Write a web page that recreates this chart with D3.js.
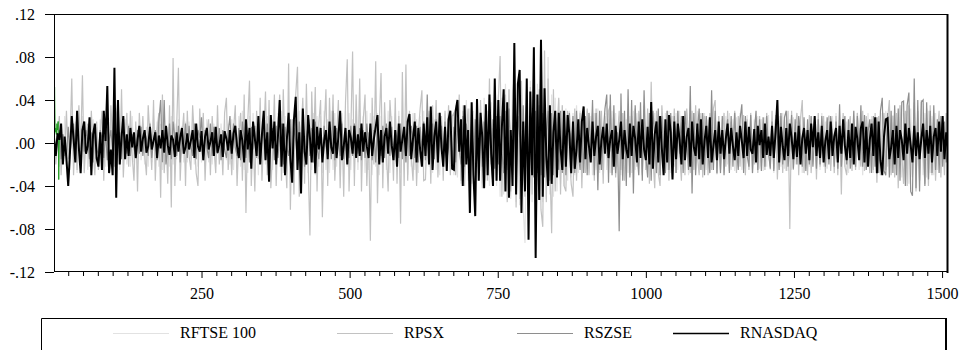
<!DOCTYPE html>
<html><head><meta charset="utf-8">
<script src="https://cdn.jsdelivr.net/npm/d3@7"></script>
<style>
body{margin:0;background:#fff}
svg{display:block}
</style>
</head><body>
<svg id="c" width="961" height="350"></svg>
<script>
// Values are returns in units of 0.001, sampled at every 3rd observation
const UNIT = 0.001;
const obs = d3.range(1, 1511, 3);

const rftse100 = [
8,-15,20,-22,15,-18,25,-20,12,-25,30,-15,20,-28,18,-22,25,-15,20,-25,15,-20,22,-18,15,
-20,22,-18,25,-22,15,-25,28,-18,20,-22,18,-25,20,-15,22,-20,18,-22,25,-18,15,-20,22,-16,
18,-20,15,-22,20,-18,25,-15,20,-22,18,-25,20,-18,15,-22,25,-20,18,-15,22,-20,16,-18,20,
-18,20,-15,22,-20,18,-22,15,-18,20,-16,22,-18,15,-20,18,-22,20,-15,18,-20,22,-16,18,-20,
22,-25,20,-28,25,-22,30,-25,20,-28,25,-22,28,-25,20,-30,25,-22,28,-20,25,-28,22,-25,20,
-25,28,-22,30,-28,25,-30,28,-25,22,-30,28,-25,30,-22,28,-25,30,-28,22,-25,28,-30,25,-22,
25,-28,30,-25,22,-28,30,-25,28,-22,25,-30,28,-25,30,-22,28,-25,22,-28,30,-25,28,-22,25,
-28,30,-25,28,-30,25,-22,28,-30,25,-28,22,-25,30,-28,25,-22,28,-25,30,-28,22,-25,28,-30,
25,-22,28,-25,22,-28,25,-22,30,-25,28,-22,25,-28,22,-25,28,-30,25,-22,28,-25,22,-28,25,
-30,35,-32,30,-38,35,-30,40,-35,32,-38,30,-35,40,-32,35,-38,42,-35,30,-40,38,-35,45,-40,
45,-50,42,-48,55,-45,50,-52,48,60,-55,50,-58,52,-60,-93,55,-50,58,-55,50,-60,55,-52,50,
-55,50,-52,80,-48,45,-50,42,-45,40,-38,35,-40,32,-35,30,-32,28,-30,35,-28,30,-32,25,-28,
30,-28,25,-30,28,-25,32,-28,25,-30,28,-25,22,-28,30,-25,28,-22,25,-30,28,-25,22,-28,25,
-28,30,-25,28,-30,25,-28,32,-25,28,-30,25,-22,28,-25,30,-28,25,-22,28,-25,30,-28,25,-22,
28,-25,30,-28,22,-25,28,-30,25,-22,28,-25,30,-28,25,-22,28,-25,22,-28,30,-25,28,-22,25,
-25,22,-28,25,-20,28,-25,22,-26,24,-22,28,-25,20,-24,26,-22,25,-28,22,-20,25,-24,22,-26,
24,-22,26,-25,22,-28,24,-20,25,-22,28,-24,20,-26,22,-25,24,-20,26,-22,25,-28,22,-24,20,
-22,25,-20,24,-26,22,-25,28,-22,20,-24,26,-22,25,-20,28,-24,22,-26,25,-22,20,-28,24,-22,
25,-22,28,-25,22,-30,26,-24,28,-22,25,-28,24,-26,22,-25,28,-24,30,-22,25,-28,26,-24,22,
-30,35,-32,28,-35,30,-38,32,-30,35,-28,30,-35,32,-30,28,-32,30,-28,25,-30,28,-25,22,-28,
20,-25,22,-18];

const rpsx = [
10,-20,5,25,-30,8,-12,30,-15,2,60,-30,12,-25,35,-6,63,-28,4,18,-22,30,-8,-30,20,
-25,8,30,-35,20,-10,-28,35,3,-22,25,40,-20,50,-32,6,28,-22,30,-12,-35,20,-45,28,-5,
25,-10,-30,35,5,-25,40,-35,12,28,-51,45,-28,8,-38,35,-60,79,-40,15,70,-35,6,28,-40,
30,-12,-25,35,4,-28,-40,32,-8,28,-35,10,22,-30,25,-5,-28,35,-20,8,-30,28,42,-25,6,
-30,12,35,-40,5,28,-35,45,-65,20,58,-40,10,-45,30,-15,42,-35,6,48,-30,40,-42,-8,45,
-40,15,45,-35,50,-10,-42,74,-62,22,-48,45,71,-50,8,42,-38,55,-20,-86,48,-5,52,-45,18,
40,-69,12,50,-40,42,-10,45,-35,5,40,-42,20,-50,38,78,-45,10,85,-40,45,-18,60,-45,22,
45,-40,10,-91,42,-20,76,-56,18,65,-42,38,-8,-45,40,12,-35,42,-38,25,-75,66,-40,73,-35,
30,-12,-35,28,-40,10,32,49,-35,-34,15,30,-38,35,-8,40,-32,5,25,-35,30,-12,35,-30,25,
28,-30,8,45,-35,30,-40,12,32,-45,28,-38,5,35,-30,40,-42,18,30,-35,60,-20,-38,42,-35,
40,81,-50,20,45,-55,50,-45,10,55,-60,48,-52,58,-20,-50,45,-58,52,-48,60,-55,15,50,-62,
-78,86,-55,60,-20,-84,50,-45,12,42,-48,35,-40,-45,30,-10,-38,-50,32,-35,8,28,-42,30,-28,
32,-30,10,28,-35,32,-8,-25,30,-38,25,-12,30,35,-28,22,-32,5,30,-25,28,-35,-10,22,-30,
25,-28,32,-22,30,8,-30,35,-25,32,-38,57,-15,-42,30,-28,-40,35,10,-28,30,-35,25,-8,32,
-28,30,-10,-35,25,-30,32,6,-28,30,-25,35,-12,-30,28,-32,25,10,-30,28,-25,32,40,-29,25,
-25,8,28,-22,30,-26,20,5,30,-28,25,-22,10,26,-30,22,-25,28,-6,-20,24,-28,25,-22,12,
-25,28,-8,-22,30,-24,26,-34,10,25,-28,22,-26,30,-80,30,-25,12,28,-30,22,40,-28,5,-30,
26,-28,8,22,-34,28,-22,-5,25,-28,20,25,-26,10,-28,25,-30,22,-48,28,-22,-30,8,25,-26,
22,-25,28,-8,-22,30,-26,25,6,-28,22,-25,28,-37,25,-30,10,28,-25,22,40,-30,25,-32,28,
-42,35,-10,-38,30,-40,35,8,-32,38,-45,30,-35,40,-12,-38,32,-40,35,-30,28,-35,10,30,-32,
25,-30,28,-20];

const rszse = [
5,-10,3,12,-15,8,-2,-12,15,-10,6,18,-14,10,-4,-12,16,-8,12,2,-15,10,-18,14,-6,
-10,12,4,-14,10,-16,2,12,-8,14,-12,-3,10,-15,12,6,-10,16,-12,8,-4,-14,12,-10,15,
-12,10,4,-12,18,-14,2,12,-16,20,40,-18,40,-20,-6,18,-15,20,3,-12,16,-18,14,-5,18,
-14,16,-3,-12,18,-15,12,5,24,-16,12,-4,-14,18,-12,15,2,-10,14,-16,12,-6,-14,10,25,
-15,18,-4,-12,14,-16,20,3,-14,12,-18,15,-6,16,-14,20,-16,4,12,-15,18,-12,-3,14,-16,
16,-14,5,18,-20,15,-4,-12,22,-18,14,2,-16,20,-14,18,-22,6,16,-12,14,-18,20,-5,-15,
12,-14,16,-3,-12,18,-15,30,-16,14,4,-12,18,-15,12,-6,-14,16,-12,18,3,-10,14,-16,12,
-14,18,-4,14,-16,12,-18,15,2,-12,16,-14,18,-6,-12,15,-16,12,4,-14,18,-15,12,-18,14,
-12,16,4,-14,16,-18,15,-6,20,-16,45,-20,14,18,-15,22,-18,6,16,-14,20,-16,-4,18,-20,
15,-18,22,-6,-20,25,-22,18,4,-24,20,-25,22,-8,-18,24,-22,20,5,-25,18,-20,22,-24,25,
-20,25,-8,-28,30,-25,32,-10,-30,28,-32,25,6,-30,35,-28,30,-35,12,28,-32,30,-28,35,-30,
28,-32,10,30,-35,28,-30,28,-8,-25,30,-28,25,-30,12,28,-22,25,-28,30,-10,-25,22,-28,25,
-30,28,-10,40,-30,28,-44,30,-25,8,32,45,-37,45,-30,35,-28,10,-82,46,-35,30,-40,50,-32,
40,-47,35,-8,-30,38,-35,49,-12,-32,28,-35,30,6,-28,32,-30,25,-10,-28,30,-25,28,-32,25,
-28,30,-10,25,-28,30,5,-25,53,-47,28,-30,12,32,-25,28,-30,25,-8,-28,49,-25,30,-28,10,
-28,25,-30,8,22,-28,25,-22,28,-6,-25,22,36,-28,25,-12,-22,26,-28,10,30,-25,22,-26,24,
-22,25,-8,-24,20,-26,22,6,-25,28,-20,24,30,-22,-5,26,-24,22,-20,25,8,-22,24,-26,22,
-20,25,-22,10,-24,22,-20,25,-6,-22,24,-20,25,8,-22,20,-24,36,-22,10,25,-20,22,-24,-8,
30,-22,25,-8,35,-22,26,-25,10,22,-28,25,-22,24,-28,30,42,-26,-30,28,-32,30,-28,35,-30,
32,-35,38,39,-40,35,47,-45,-49,60,-42,40,-45,38,40,-40,38,-34,30,-28,35,-25,22,-28,25,
-22,20,-18,15];

const rnasdaq = [
5,-12,9,3,18,-20,6,-15,-40,-8,25,4,-18,30,-5,-28,12,20,-10,-3,24,-30,8,18,-14,
-22,10,-25,30,2,53,-28,-6,-30,70,-51,40,-20,5,25,-15,8,-12,14,-4,10,-14,3,16,-8,
4,12,-9,-3,15,-6,2,10,-14,7,-5,12,-9,16,-2,-11,7,3,-13,10,-8,5,14,-10,-4,
9,-6,2,12,-14,18,-3,-8,11,-16,6,14,-6,1,10,-12,15,-9,-2,8,-13,11,4,-7,12,
-10,9,16,-3,-14,12,2,-18,22,-6,14,-24,20,4,-12,25,-20,8,30,-16,10,-36,26,-5,20,
-20,6,40,-22,18,-30,3,28,-15,-37,22,43,-25,10,-47,32,-8,-20,26,5,-18,22,-28,15,-6,
14,-18,2,12,-15,20,-4,-10,16,-14,6,30,-16,-3,14,-20,12,5,-10,16,-14,8,-12,18,-8,
10,-3,-14,18,-12,4,15,26,-20,12,-18,6,14,-10,20,-2,-16,12,-22,18,-8,3,15,-12,20,
27,-15,4,20,-18,14,-6,-22,18,-12,24,-20,34,-25,6,20,-18,28,-4,-22,15,-26,22,30,-24,
-25,30,40,-8,22,-40,35,-20,12,-65,38,-30,-68,41,-35,28,5,-42,36,-30,45,-10,-40,60,-35,
40,-35,15,50,-45,38,-51,12,-40,93,-48,55,68,-65,20,-45,60,-90,48,-30,89,-107,45,-53,96,
-50,51,-12,-40,35,-38,10,30,-32,28,-5,-25,30,-22,26,8,-28,20,-24,-6,22,-18,20,34,-15,
14,-3,-18,20,-12,6,16,-20,2,15,-10,18,-14,4,12,-22,16,-10,3,20,-15,12,-6,-14,18,
-12,16,4,-18,20,-14,22,-6,-16,15,-20,38,-24,8,20,-18,25,-5,-30,22,-18,26,10,-34,20,
-15,18,3,-20,25,-16,6,14,-22,20,-4,-12,18,-15,22,-20,2,16,-14,24,-18,-3,12,-16,20,
-10,12,-15,4,18,-10,14,-3,-16,10,-12,16,2,-14,20,-12,15,-6,-10,13,-18,16,-2,12,-14,
18,-11,6,-12,16,-14,10,40,-18,15,-3,-16,14,-12,18,5,-15,10,-13,16,-20,4,14,-10,12,
-16,18,-4,25,-12,10,-14,16,-18,2,12,-15,20,-12,6,14,-18,16,-10,22,-3,-16,12,-14,18,
-20,15,4,-16,14,20,-18,15,-22,3,18,-12,24,-28,20,-16,-30,6,22,23,-15,-4,12,-20,16,
-14,12,3,-16,18,-10,14,-2,-18,16,-12,10,-15,4,18,-14,12,-10,16,-18,6,14,-12,20,-8,
25,-15,10,-8];

// short green trace visible at the very start of the sample
const greenObs = [1,2,3,4,5,6,7,8,9,10];
const greenVals = [-5,52,10,14,8,18,12,20,-34,8];

const seriesNames = ["RFTSE 100", "RPSX", "RSZSE", "RNASDAQ"];
const seriesColors = ["#e2e2e2", "#c2c2c2", "#8e8e8e", "#000000"];
const seriesWidths = [1.2, 1.2, 1.2, 2];
const legendWidths = [1, 1, 1, 1.6];
const seriesData = [rftse100, rpsx, rszse, rnasdaq];

const yTickValues = [-0.12, -0.08, -0.04, 0, 0.04, 0.08, 0.12];
const xMajorTicks = [250, 500, 750, 1000, 1250, 1500];
const xMinorTicks = d3.range(25, 1510, 25);

const FONT = '"Liberation Serif", "Times New Roman", serif';
const svg = d3.select("#c");
const L = 54, R = 948, T = 14, B = 272;
const x = d3.scaleLinear().domain([1, 1510]).range([L, R]);
const y = d3.scaleLinear().domain([-0.12, 0.12]).range([B, T]);

svg.append("defs").append("clipPath").attr("id", "clip")
  .append("rect").attr("x", L).attr("y", T).attr("width", R - L).attr("height", B - T);

const plot = svg.append("g").attr("clip-path", "url(#clip)");
const line = d3.line().x((d, i) => x(obs[i])).y(d => y(d * UNIT));

seriesData.forEach((s, k) => {
  if (k === 3) {
    plot.append("path")
      .attr("d", d3.line().x((d, i) => x(greenObs[i])).y(d => y(d * UNIT))(greenVals))
      .attr("fill", "none").attr("stroke", "#1f9a1f").attr("stroke-width", 1);
  }
  plot.append("path").attr("d", line(s))
    .attr("fill", "none").attr("stroke", seriesColors[k])
    .attr("stroke-width", seriesWidths[k]);
});

// frame
svg.append("rect").attr("x", L + 0.5).attr("y", T + 0.5)
  .attr("width", R - L - 1).attr("height", B - T - 1)
  .attr("fill", "none").attr("stroke", "#000").attr("stroke-width", 1);
svg.append("line").attr("x1", R - 0.5).attr("x2", R - 0.5).attr("y1", T).attr("y2", B + 1)
  .attr("stroke", "#000").attr("stroke-width", 2);

const fmt = v => {
  const s = d3.format(".2f")(Math.abs(v)).replace(/^0/, "");
  return (v < 0 ? "-" : "") + s;
};

const yAxis = svg.append("g").attr("transform", `translate(${L},0)`)
  .call(d3.axisLeft(y).tickValues(yTickValues).tickSize(9).tickPadding(10).tickFormat(fmt));
yAxis.select(".domain").remove();

const xMinor = svg.append("g").attr("transform", `translate(0,${B})`)
  .call(d3.axisBottom(x).tickValues(xMinorTicks.filter(v => v % 250 !== 0)).tickSize(4).tickFormat(""));
xMinor.select(".domain").remove();

const xAxis = svg.append("g").attr("transform", `translate(0,${B})`)
  .call(d3.axisBottom(x).tickValues(xMajorTicks).tickSize(6).tickPadding(10).tickFormat(d3.format("d")));
xAxis.select(".domain").remove();
svg.selectAll(".tick line").attr("stroke", "#000");

// legend
const LG = { left: 41, right: 946, top: 318 };
svg.append("path")
  .attr("d", `M${LG.left + 0.5},360V${LG.top + 0.5}H${LG.right}`)
  .attr("fill", "none").attr("stroke", "#000").attr("stroke-width", 1);
svg.append("line").attr("x1", LG.right).attr("x2", LG.right).attr("y1", LG.top).attr("y2", 360)
  .attr("stroke", "#000").attr("stroke-width", 2);

const legendTextX = [180, 404, 584, 740];
seriesNames.forEach((n, k) => {
  const g = svg.append("g");
  g.append("line").attr("x1", legendTextX[k] - 67).attr("x2", legendTextX[k] - 11)
    .attr("y1", 333.5).attr("y2", 333.5)
    .attr("stroke", seriesColors[k]).attr("stroke-width", legendWidths[k]);
  g.append("text").attr("x", legendTextX[k]).attr("y", 338).text(n);
});

svg.selectAll("text")
  .attr("fill", "#000")
  .style("font-family", FONT).style("font-size", "16px");
</script>
</body></html>
